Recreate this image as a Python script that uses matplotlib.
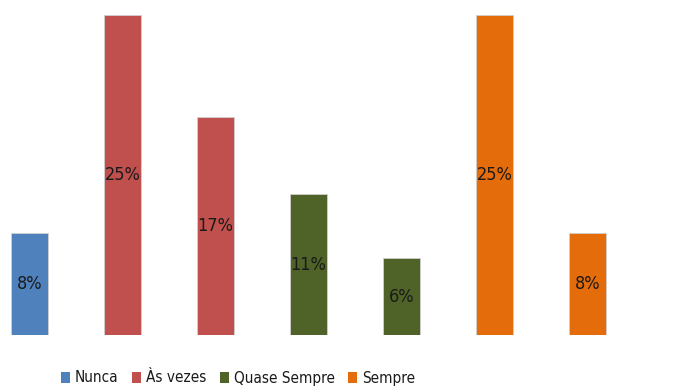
import matplotlib.pyplot as plt
from matplotlib.patches import Patch

# frequência das respostas (%)
categorias = ['Nunca', 'Às vezes', 'Quase Sempre', 'Sempre']
valores = [8, 25, 17, 11, 6, 25, 8]
grupo = [0, 1, 1, 2, 2, 3, 3]
cores = ['#4F81BD', '#C0504D', '#4F6228', '#E46C0A']

plt.rcParams['font.family'] = ['DejaVu Sans']
plt.rcParams['font.stretch'] = 'condensed'

fig = plt.figure(figsize=(6.75, 3.87), dpi=100)
# eixo ocupa quase toda a figura, base das barras em y=335 px
ax = fig.add_axes([0, 1 - 335 / 387, 1, 320 / 387])

x = list(range(len(valores)))
ax.bar(x, valores, width=0.4, color=[cores[g] for g in grupo],
       edgecolor='#d0d0d0', linewidth=0.6)
for xi, v in zip(x, valores):
    ax.text(xi, v / 2, f'{v}%', ha='center', va='center', fontsize=13, color='#1a1a1a')

ax.set_xlim(-29.5 / 93, (675 - 29.5) / 93)
ax.set_ylim(0, 25)
ax.axis('off')

handles = [Patch(facecolor=c, edgecolor='none') for c in cores]
fig.legend(handles, categorias, loc='center', bbox_to_anchor=(238 / 675, 1 - 378 / 387),
           ncol=4, frameon=False, fontsize=11, handlelength=0.6, handleheight=0.7,
           handletextpad=0.3, columnspacing=0.9, labelcolor='#1a1a1a')

fig.savefig('out.png', dpi=100)
